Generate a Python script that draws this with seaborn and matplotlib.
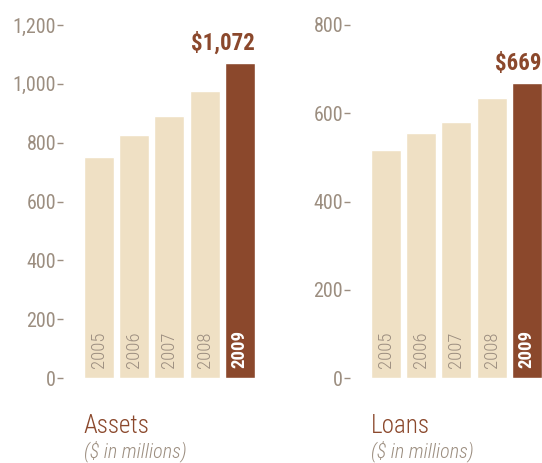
import matplotlib
matplotlib.use("Agg")
import matplotlib.pyplot as plt
import seaborn as sns
import pandas as pd

years = ["2005", "2006", "2007", "2008", "2009"]
assets = [751, 826, 891, 976, 1072]
loans = [517, 556, 580, 634, 669]
assets_ticks = [0, 200, 400, 600, 800, 1000, 1200]
loans_ticks = [0, 200, 400, 600, 800]

light = "#EFE0C4"
dark = "#8B482C"
grey = "#9C8E80"

sns.set_theme(style="white")
plt.rcParams["font.family"] = ["Roboto Condensed", "DejaVu Sans"]

fig = plt.figure(figsize=(5.42, 4.63), dpi=100)
ax1 = fig.add_axes([63 / 542, 1 - 378 / 463, (255 - 63) / 542, 353 / 463])
ax2 = fig.add_axes([350 / 542, 1 - 378 / 463, (542 - 350) / 542, 353 / 463])

panels = [
    (ax1, assets, assets_ticks, "Assets"),
    (ax2, loans, loans_ticks, "Loans"),
]

bw = 30 / 35.25
for ax, vals, ticks, title in panels:
    df = pd.DataFrame({"year": years, "value": vals})
    sns.barplot(data=df, x="year", y="value", hue="year",
                palette=[light] * 4 + [dark], legend=False,
                width=bw, saturation=1, ax=ax)
    ax.set_xlim(-1.02, 4.43)
    ax.set_ylim(0, ticks[-1])
    ax.set_yticks(ticks)
    ax.set_yticklabels([f"{t:,}" for t in ticks])
    ax.set_xticks([])
    ax.set_xlabel("")
    ax.set_ylabel("")
    for s in ax.spines.values():
        s.set_visible(False)
    ax.tick_params(axis="y", left=True, length=4, width=1, color=grey,
                   pad=1, labelsize=14.5, labelcolor=grey)
    ax.patch.set_alpha(0)

    # year labels inside bars
    for i, y in enumerate(years):
        last = i == len(years) - 1
        ax.annotate(y, (i, 0), xytext=(0, 10), textcoords="offset pixels",
                    rotation=90, ha="center", va="bottom", fontsize=13.5,
                    color="white" if last else grey,
                    fontweight="bold" if last else "light")

    # value callout on last bar
    ax.annotate(f"${vals[-1]:,}", (4 + bw / 2, vals[-1]),
                xytext=(0, 8), textcoords="offset pixels",
                ha="right", va="bottom", fontsize=16.5, fontweight="bold",
                color=dark)

    tr = ax.get_xaxis_transform()
    ax.text(-bw / 2, -0.156, title, transform=tr, ha="left",
            va="baseline", fontsize=18, fontweight="light", color=dark)
    ax.text(-bw / 2, -0.224, "($ in millions)", transform=tr, ha="left",
            va="baseline", fontsize=14.5, style="italic", fontweight="light",
            color=grey)

fig.savefig("out.png", dpi=100)
